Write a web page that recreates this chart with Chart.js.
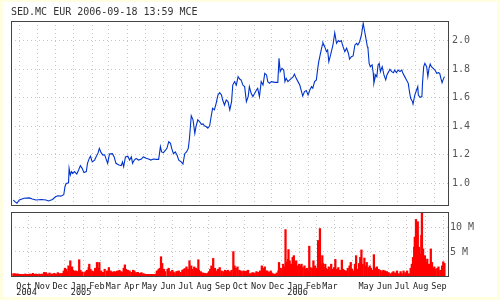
<!DOCTYPE html>
<html>
<head>
<meta charset="utf-8">
<script src="https://cdn.jsdelivr.net/npm/chart.js@4.4.1/dist/chart.umd.min.js"></script>
<style>
html, body { margin: 0; padding: 0; background: #ffffe0; }
#wrap { position: relative; width: 500px; height: 300px; }
#paper { position: absolute; left: 3px; top: 2px; width: 494px; height: 295px; background: #fff; }
canvas { position: absolute; left: 0; top: 0; }
</style>
</head>
<body>
<div id="wrap">
  <div id="paper"></div>
  <canvas id="priceChart" width="500" height="300"></canvas>
  <canvas id="volChart" width="500" height="300"></canvas>
</div>
<script>
var chartTitle = 'SED.MC EUR 2006-09-18 13:59 MCE';

// x values are days counted from 2004-10-01
var priceDays = [
  -10,-7,-4,0,8,17,22,28,37,45, 49,56,61,65,70,75,77,79,83,84,
  86,88,90,93,97,100,103,106,109,113, 115,118,120,123,127,130,133,135,138,141,
  144,146,149,152,157,160,163,168,172,174, 176,179,183,186,189,191,194,197,201,206,
  209,214,218,222,226,231,235,238,240,243, 247,249,252,255,257,260,263,266,269,273,
  276,279,282,285,287,289,290,293,296,298, 301,304,307,310,312,315,318,321,324,326,
  329,332,335,338,341,343,346,349,352,355, 358,360,363,366,369,372,374,377,380,383,
  386,388,391,394,397,400,402,405,408,411, 414,417,419,422,425,431,436,438,440,443,
  446,448,450,453,456,459,462,464,467,470, 473,476,478,481,484,487,490,493,495,498,
  501,503,505,508,511,512,515,518,520,522, 525,527,529,532,535,538,540,543,546,549,
  552,555,557,560,563,566,569,571,574,577, 580,582,584,587,588,590,592,595,597,598,
  601,603,605,607,609,612,615,618,620,623, 625,628,631,633,636,639,642,645,647,650,
  653,656,658,660,663,664,667,670,672,673, 676,679,680,682,684,687,689,691,693,695,
  698,701,704,707,709,711,713,715,717
];
var priceValues = [
  0.883,0.87,0.86,0.883,0.895,0.898,0.89,0.883,0.887,0.883, 0.876,0.887,0.906,0.913,0.91,0.92,0.976,0.999,1.004,1.105,
  1.058,1.082,1.07,1.082,1.065,1.093,1.124,1.105,1.075,1.082, 1.14,1.175,1.19,1.15,1.163,1.19,1.215,1.245,1.215,1.198,
  1.2,1.175,1.14,1.205,1.208,1.185,1.14,1.128,1.124,1.15, 1.117,1.185,1.19,1.163,1.185,1.14,1.163,1.175,1.163,1.17,
  1.185,1.175,1.17,1.163,1.17,1.168,1.168,1.257,1.22,1.215, 1.234,1.245,1.292,1.28,1.245,1.208,1.22,1.198,1.163,1.15,
  1.135,1.208,1.22,1.245,1.316,1.421,1.474,1.445,1.35,1.398, 1.445,1.433,1.414,1.417,1.403,1.398,1.386,1.403,1.479,1.526,
  1.515,1.561,1.619,1.636,1.619,1.584,1.549,1.584,1.573,1.515, 1.573,1.689,1.713,1.689,1.748,1.729,1.725,1.689,1.678,1.573,
  1.608,1.678,1.631,1.608,1.631,1.654,1.666,1.608,1.713,1.689, 1.771,1.76,1.713,1.701,1.713,1.708,1.708,1.876,1.783,1.806,
  1.794,1.713,1.736,1.713,1.725,1.736,1.748,1.766,1.736,1.713, 1.689,1.643,1.612,1.643,1.65,1.619,1.654,1.678,1.666,1.713,
  1.725,1.795,1.853,1.912,1.97,1.986,1.958,1.923,1.935,1.853, 1.9,1.935,1.97,2.056,1.982,2.0,1.993,2.0,1.958,1.923,
  1.947,1.912,1.87,1.888,1.893,1.97,1.982,1.97,1.993,2.04, 2.122,2.075,2.028,1.958,1.947,1.841,1.818,1.83,1.771,1.701,
  1.76,1.748,1.83,1.841,1.783,1.818,1.76,1.725,1.76,1.783, 1.8,1.783,1.776,1.794,1.776,1.794,1.783,1.794,1.771,1.748,
  1.725,1.701,1.643,1.596,1.573,1.556,1.619,1.654,1.678,1.619, 1.603,1.608,1.701,1.818,1.841,1.818,1.748,1.806,1.836,1.818,
  1.806,1.794,1.771,1.776,1.771,1.736,1.706,1.729,1.748
];

var volDays = [
  -10,-7,-4,-2,1,4,7,10,12,15, 18,21,23,25,28,31,34,37,39,42,
  45,48,51,54,56,59,62,65,68,70, 73,75,77,79,82,83,86,87,89,91,
  94,96,99,101,103,106,110,112,114,117, 118,120,123,126,128,131,133,135,138,141,
  144,148,151,154,156,158,160,162,165,166, 169,171,173,176,178,180,183,186,189,192,
  194,197,200,202,204,206,209,211,214,217, 220,223,225,228,231,232,235,237,239,241,
  244,246,250,252,255,258,260,262,265,267, 269,272,275,277,279,282,285,287,290,292,
  295,298,300,302,303,306,307,310,313,316, 318,320,322,324,327,330,333,335,338,341,
  344,347,349,352,355,358,361,363,365,368, 371,373,375,378,380,382,384,386,389,392,
  394,397,400,403,406,409,411,414,416,418, 420,422,424,425,427,429,431,434,437,438,
  441,444,445,447,449,450,453,454,456,458, 461,463,465,467,469,472,474,476,478,481,
  483,485,488,489,491,494,496,499,502,504, 506,507,509,511,512,514,516,517,520,522,
  524,526,529,531,533,536,538,541,544,546, 548,551,554,557,559,561,564,566,568,570,
  573,575,577,579,582,584,586,589,591,593, 596,598,600,603,606,609,612,614,617,620,
  623,626,629,631,634,637,640,643,645,648, 651,654,657,660,662,664,666,667,669,671,
  672,674,676,678,679,681,683,684,687,688, 691,692,694,696,698,700,702,705,707,710,
  713,715,717
];
// volume in millions of shares
var volMillions = [
  0.49,0.49,0.42,0.42,0.35,0.35,0.35,0.42,0.35,0.35, 0.42,0.35,0.56,0.35,0.42,0.35,0.42,0.35,0.42,0.77,
  0.7,0.42,0.63,0.42,0.42,0.56,0.42,0.7,0.49,0.49, 0.56,1.06,1.62,1.41,0.92,2.11,3.17,1.62,1.9,1.2,
  0.99,1.06,0.92,3.38,1.2,0.85,0.7,0.92,1.2,1.76, 2.46,1.41,1.06,0.92,1.62,2.82,1.62,2.82,1.06,0.77,
  1.41,1.06,1.76,1.06,0.85,0.7,0.92,0.85,0.99,1.06, 1.2,0.92,0.85,1.62,2.32,1.41,1.2,1.06,0.77,1.2,
  1.06,0.7,0.77,0.49,0.56,0.7,0.49,0.42,0.35,0.35, 0.35,0.35,0.35,0.35,0.42,1.06,1.41,1.62,4.01,2.61,
  1.41,0.92,1.41,1.62,0.92,1.2,0.85,0.63,0.92,0.99, 1.06,0.77,1.2,1.34,1.55,1.9,1.41,3.17,2.11,1.41,
  1.9,1.62,1.41,3.38,1.2,0.92,0.7,0.63,0.56,0.49, 0.63,0.92,1.41,2.11,3.66,1.62,1.06,1.41,1.76,1.06,
  0.92,1.2,1.06,1.2,0.92,1.2,5.07,2.11,1.62,1.9, 1.2,1.06,0.92,1.06,0.99,0.92,1.06,1.2,0.49,0.63,
  0.7,0.63,0.92,0.77,1.06,2.11,1.62,1.9,1.06,1.06, 0.85,0.7,1.06,0.7,0.49,0.42,0.35,0.63,1.06,2.82,
  1.62,1.2,2.46,1.9,9.65,2.82,3.45,5.49,3.17,2.46, 3.87,4.23,2.82,3.17,2.11,2.46,2.11,2.46,1.76,2.11,
  1.41,1.62,1.06,6.2,1.76,1.62,3.17,2.11,1.62,7.39, 2.46,9.86,2.46,4.23,2.61,1.76,2.46,1.62,1.41,1.9,
  1.06,2.46,1.41,1.76,3.45,1.41,1.76,1.2,3.31,1.41, 1.2,1.06,1.62,2.11,2.82,1.41,1.06,2.46,4.23,1.41,
  2.61,3.87,5.42,2.46,3.73,2.11,2.82,1.76,2.11,1.62, 1.2,4.44,1.62,1.9,1.41,1.2,0.92,1.2,1.06,0.92,
  0.7,0.49,0.7,0.92,0.63,1.06,0.49,0.92,0.49,1.06, 0.7,1.06,0.49,1.62,2.46,3.87,5.99,8.1,11.76,8.45,
  11.27,5.99,4.58,8.45,13.03,5.63,3.52,4.23,2.82,3.52, 2.46,2.11,5.63,2.82,1.62,1.9,1.41,1.62,1.9,1.2,
  2.11,2.96,2.61
];

// first day of each month, counted from 2004-10-01
var monthDays = [0,31,61,92,123,151,182,212,243,273,304,335,365,396,426,457,488,516,547,577,608,638,669,700];
var monthLabels = [['Oct','2004'],'Nov','Dec',['Jan','2005'],'Feb','Mar','Apr','May','Jun','Jul','Aug','Sep',
                   'Oct','Nov','Dec',['Jan','2006'],'Feb','Mar','','May','Jun','Jul','Aug','Sep'];
var priceTicks = [1.0, 1.2, 1.4, 1.6, 1.8, 2.0];
var volTicks = [5, 10];

var mono = 'DejaVu Sans Mono';
var dayMin = -14, dayMax = 723;

var panelFrame = {
    id: 'panelFrame',
    afterDatasetsDraw: function(chart){
        var c = chart.ctx, a = chart.chartArea;
        c.save();
        c.strokeStyle = '#444';
        c.lineWidth = 1;
        c.strokeRect(a.left + 0.5, a.top + 0.5, a.right - a.left, a.bottom - a.top);
        c.restore();
    }
};

function monthTicks(axis){
    axis.ticks = monthDays.map(function(d){ return {value: d}; });
}
var dotted = {color: '#c8c8c8', drawTicks: false};
var noBorder = {display: false, dash: [1, 3]};

var priceChart = new Chart(document.getElementById('priceChart').getContext('2d'), {
    type: 'line',
    data: {
        datasets: [{
            data: priceDays.map(function(d, i){ return {x: d, y: priceValues[i]}; }),
            borderColor: '#0033cc',
            borderWidth: 1.1,
            pointRadius: 0,
            tension: 0
        }]
    },
    options: {
        responsive: false,
        animation: false,
        layout: {padding: {left: 11, top: 0, right: 0, bottom: 95}},
        plugins: {
            legend: {display: false},
            tooltip: {enabled: false},
            title: {
                display: true, text: chartTitle, align: 'start', color: '#333',
                font: {family: mono, size: 10, weight: 'normal'},
                padding: {top: 6, bottom: 3}
            }
        },
        scales: {
            x: {
                type: 'linear', min: dayMin, max: dayMax,
                afterBuildTicks: monthTicks,
                ticks: {display: false},
                grid: dotted, border: noBorder,
                afterFit: function(s){ s.height = 0; }
            },
            y: {
                position: 'right', min: 0.848, max: 2.138,
                afterBuildTicks: function(axis){ axis.ticks = priceTicks.map(function(v){ return {value: v}; }); },
                ticks: {
                    padding: 4, color: '#555', font: {family: mono, size: 10},
                    callback: function(v){ return v.toFixed(1); }
                },
                grid: dotted, border: noBorder,
                afterFit: function(s){ s.width = 52; }
            }
        }
    },
    plugins: [panelFrame]
});

var volChart = new Chart(document.getElementById('volChart').getContext('2d'), {
    type: 'bar',
    data: {
        datasets: [{
            data: volDays.map(function(d, i){ return {x: d, y: volMillions[i]}; }),
            backgroundColor: '#ff0000',
            barThickness: 1.6
        }]
    },
    options: {
        responsive: false,
        animation: false,
        layout: {padding: {left: 11, top: 212, right: 0, bottom: 3}},
        plugins: {legend: {display: false}, tooltip: {enabled: false}},
        scales: {
            x: {
                type: 'linear', min: dayMin, max: dayMax, offset: false,
                afterBuildTicks: monthTicks,
                ticks: {
                    autoSkip: false, maxRotation: 0, align: 'start', labelOffset: -3,
                    padding: 7, color: '#222',
                    font: {family: mono, size: 8.5, lineHeight: 0.8},
                    callback: function(v, i){ return monthLabels[i]; }
                },
                grid: dotted, border: noBorder,
                afterFit: function(s){ s.height = 21; }
            },
            y: {
                position: 'right', min: 0, max: 13.3,
                afterBuildTicks: function(axis){ axis.ticks = volTicks.map(function(v){ return {value: v}; }); },
                ticks: {
                    padding: 2, color: '#555', font: {family: mono, size: 10},
                    callback: function(v){ return v + ' M'; }
                },
                grid: dotted, border: noBorder,
                afterFit: function(s){ s.width = 52; }
            }
        }
    },
    plugins: [panelFrame]
});
</script>
</body>
</html>
